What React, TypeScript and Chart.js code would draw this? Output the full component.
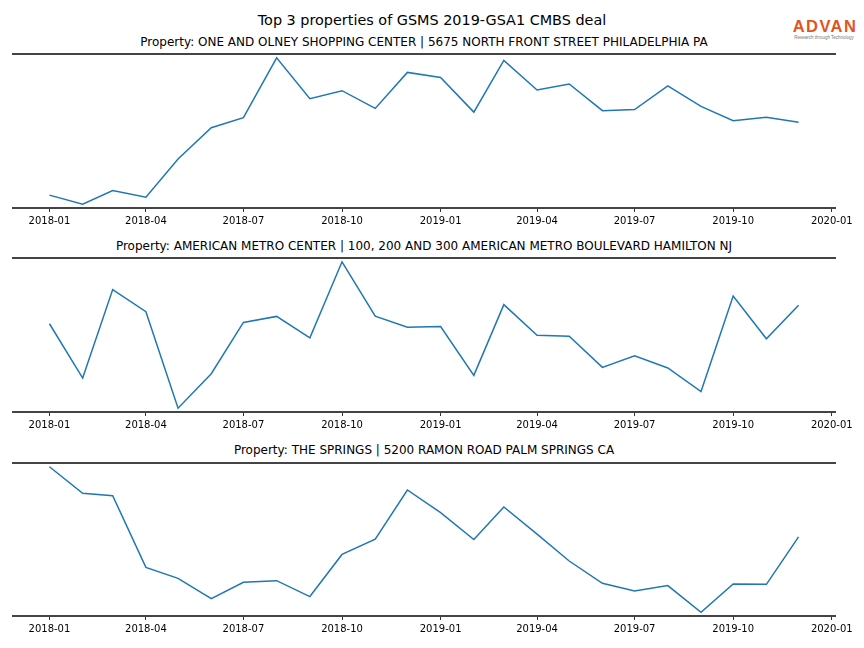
import React, { useEffect, useRef } from "react";
import { Chart, registerables } from "chart.js";

Chart.register(...registerables);

const months = [
  "2018-01", "2018-02", "2018-03", "2018-04", "2018-05", "2018-06",
  "2018-07", "2018-08", "2018-09", "2018-10", "2018-11", "2018-12",
  "2019-01", "2019-02", "2019-03", "2019-04", "2019-05", "2019-06",
  "2019-07", "2019-08", "2019-09", "2019-10", "2019-11", "2019-12",
];

const tickLabels = [
  "2018-01", "2018-04", "2018-07", "2018-10", "2019-01",
  "2019-04", "2019-07", "2019-10", "2020-01",
];

const suptitle = "Top 3 properties of GSMS 2019-GSA1 CMBS deal";

const titles = [
  "Property: ONE AND OLNEY SHOPPING CENTER | 5675 NORTH FRONT STREET PHILADELPHIA PA",
  "Property: AMERICAN METRO CENTER | 100, 200 AND 300 AMERICAN METRO BOULEVARD HAMILTON NJ",
  "Property: THE SPRINGS | 5200 RAMON ROAD PALM SPRINGS CA",
];

const olneyValues = [
  12.5, 3.5, 17, 10.5, 48.5, 79.5, 89.5, 149, 108.3, 116.3, 98.7, 134.5,
  129.5, 95, 146.5, 117, 123, 96.5, 97.5, 121, 100.7, 86.5, 90, 85,
];

const metroValues = [
  87.7, 33.7, 121.7, 99.7, 3.7, 38, 89, 95, 73.7, 149.3, 95.3, 84.3,
  85, 36.3, 106.7, 76.3, 75.3, 44.3, 55.7, 43.7, 20.3, 115.3, 72.7, 106,
];

const springsValues = [
  149.3, 122.7, 120.3, 48.3, 37.3, 17, 33.3, 35, 19, 61.3, 76.7, 126,
  103.3, 76.3, 109, 81.7, 54.7, 32.3, 24.7, 30, 3.3, 31.7, 31.3, 79,
];

const seriesList = [olneyValues, metroValues, springsValues];

const DAY = 86400000;
const toDays = (label: string) => {
  const [y, m] = label.split("-").map(Number);
  return (Date.UTC(y, m - 1, 1) - Date.UTC(2018, 0, 1)) / DAY;
};

// layout of the three panels (spine top/bottom in page px)
const panels = [
  { top: 54, bottom: 208, titleY: 42 },
  { top: 258, bottom: 412, titleY: 246 },
  { top: 463, bottom: 616, titleY: 450 },
];

const FIG_W = 864;
const AX_LEFT = 12;
const AX_RIGHT = 836;
const PAD_TOP = 6;
const XAXIS_H = 30;

const spinePlugin = {
  id: "spines",
  afterDatasetsDraw(chart: any) {
    const { ctx, chartArea } = chart;
    ctx.save();
    ctx.strokeStyle = "#444444";
    ctx.lineWidth = 2;
    ctx.beginPath();
    ctx.moveTo(chartArea.left, chartArea.top);
    ctx.lineTo(chartArea.right, chartArea.top);
    ctx.moveTo(chartArea.left, chartArea.bottom);
    ctx.lineTo(chartArea.right, chartArea.bottom);
    ctx.stroke();
    ctx.restore();
  },
};

function Panel({ values, index }: { values: number[]; index: number }) {
  const ref = useRef<HTMLCanvasElement>(null);
  const p = panels[index];
  const height = p.bottom - p.top + PAD_TOP + XAXIS_H;
  useEffect(() => {
    if (!ref.current) return;
    const xs = months.map(toDays);
    const xMinD = Math.min(...xs);
    const xMaxD = Math.max(...xs);
    const xm = (xMaxD - xMinD) * 0.05;
    const vMin = Math.min(...values);
    const vMax = Math.max(...values);
    const ym = (vMax - vMin) * 0.026;
    const tickDays = tickLabels.map(toDays);
    const chart = new Chart(ref.current, {
      type: "line",
      data: {
        datasets: [
          {
            data: months.map((m, i) => ({ x: xs[i], y: values[i] })),
            borderColor: "#1f77b4",
            borderWidth: 1.5,
            pointRadius: 0,
            fill: false,
            tension: 0,
          },
        ],
      },
      options: {
        animation: false,
        responsive: false,
        devicePixelRatio: 1,
        layout: {
          padding: { top: PAD_TOP, left: AX_LEFT, right: FIG_W - AX_RIGHT, bottom: 0 },
        },
        plugins: {
          legend: { display: false },
          tooltip: { enabled: false },
          title: { display: false },
        },
        scales: {
          x: {
            type: "linear",
            min: xMinD - xm,
            max: xMaxD + xm,
            afterBuildTicks: (scale: any) => {
              scale.ticks = tickDays.map((v) => ({ value: v }));
            },
            afterFit: (scale: any) => {
              scale.height = XAXIS_H;
            },
            border: { display: false },
            grid: {
              display: true,
              drawOnChartArea: false,
              drawTicks: true,
              tickLength: 4,
              tickColor: "#333333",
              tickWidth: 1,
            },
            ticks: {
              autoSkip: false,
              maxRotation: 0,
              padding: 3,
              color: "#000000",
              font: { family: "DejaVu Sans", size: 10 },
              callback: (_v: any, i: number) => tickLabels[i],
            },
          },
          y: {
            display: false,
            min: vMin - ym,
            max: vMax + ym,
          },
        },
      },
      plugins: [spinePlugin],
    });
    return () => chart.destroy();
  }, [values]);
  return (
    <canvas
      ref={ref}
      width={FIG_W}
      height={height}
      style={{
        position: "absolute",
        left: 0,
        top: p.top - PAD_TOP,
        width: FIG_W,
        height,
      }}
    />
  );
}

export default function App() {
  const centerAx = (AX_LEFT + AX_RIGHT) / 2;
  return (
    <div
      style={{
        position: "fixed",
        left: 0,
        top: 0,
        width: FIG_W,
        height: 648,
        background: "#ffffff",
        overflow: "hidden",
        fontFamily: "DejaVu Sans",
      }}
    >
      <div
        style={{
          position: "absolute",
          left: 0,
          width: FIG_W,
          top: 11,
          lineHeight: "18px",
          fontSize: 14.4,
          textAlign: "center",
          color: "#000",
        }}
      >
        {suptitle}
      </div>
      {titles.map((t, i) => (
        <div
          key={i}
          style={{
            position: "absolute",
            left: centerAx - 430,
            width: 860,
            top: panels[i].titleY - 7,
            lineHeight: "14px",
            fontSize: 12,
            textAlign: "center",
            color: "#000",
            whiteSpace: "nowrap",
          }}
        >
          {t}
        </div>
      ))}
      {seriesList.map((v, i) => (
        <Panel key={i} values={v} index={i} />
      ))}
      <div
        style={{
          position: "absolute",
          left: 786,
          top: 17,
          width: 78,
          textAlign: "center",
          fontFamily: "Liberation Sans",
          fontWeight: 700,
          fontSize: 16.5,
          lineHeight: "18px",
          color: "#e4531f",
          letterSpacing: "1.4px",
          whiteSpace: "nowrap",
        }}
      >
        ADVAN
      </div>
      <div
        style={{
          position: "absolute",
          left: 784,
          top: 35,
          width: 80,
          textAlign: "center",
          fontFamily: "Liberation Sans",
          fontSize: 4.5,
          lineHeight: "5px",
          color: "#777",
          whiteSpace: "nowrap",
        }}
      >
        Research through Technology
      </div>
    </div>
  );
}
